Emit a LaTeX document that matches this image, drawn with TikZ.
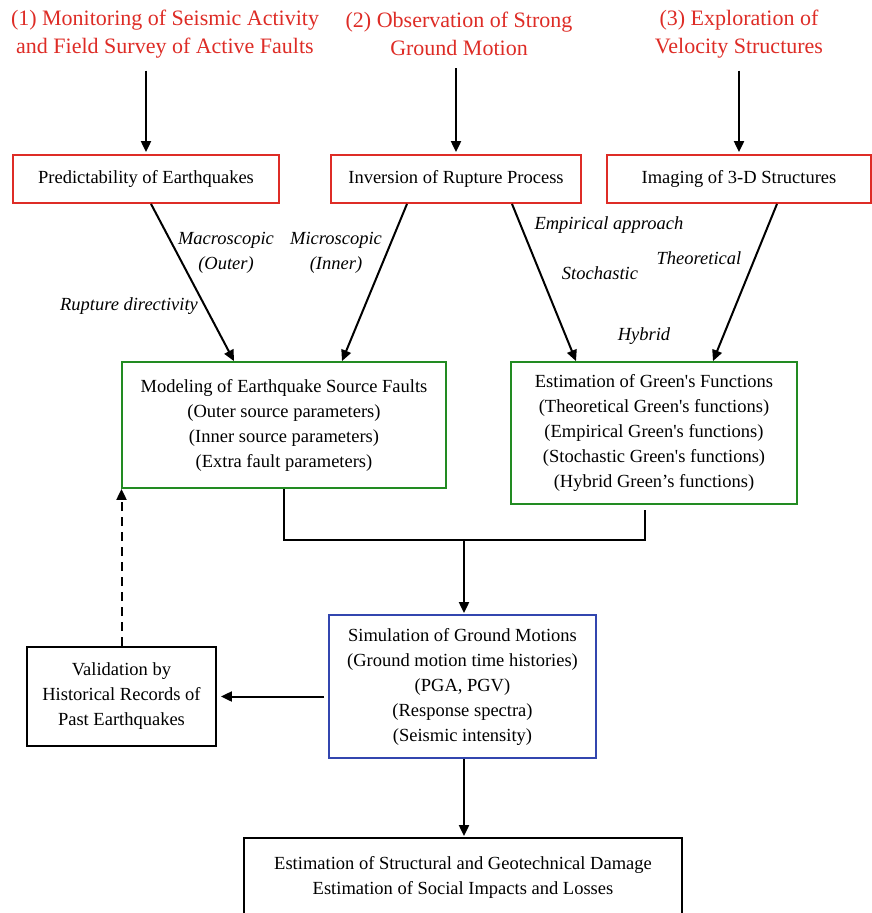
\documentclass[tikz,border=0pt]{standalone}
\usepackage{fontspec}
\setmainfont{Liberation Serif}
\usetikzlibrary{arrows.meta,calc}
\definecolor{fred}{RGB}{222,44,38}
\definecolor{fgreen}{RGB}{34,139,34}
\definecolor{fblue}{RGB}{50,70,175}
\begin{document}
\begin{tikzpicture}[x=1pt,y=-1pt,
  body/.style={font=\fontsize{18.5}{25}\selectfont, align=center},
  title/.style={font=\fontsize{22}{28}\selectfont, align=center, text=fred},
  lab/.style={font=\fontsize{18.5}{25}\selectfont\itshape, align=center},
  boxbase/.style={body, draw, line width=1.8pt, inner sep=0pt},
  rbox/.style={boxbase, draw=fred},
  gbox/.style={boxbase, draw=fgreen},
  bbox/.style={boxbase, draw=fblue},
  kbox/.style={boxbase, draw=black},
  arr/.style={line width=2pt, -{Triangle[length=11pt,width=10pt]}},
  conn/.style={line width=2pt}
]
\clip (0,0) rectangle (872,913);
\fill[white] (0,0) rectangle (872,913);

% titles
\node[title] (t1) at (165,34) {(1) Monitoring of Seismic Activity\\and Field Survey of Active Faults};
\node[title] (t2) at (459,34) {(2) Observation of Strong\\Ground Motion};
\node[title] (t3) at (739,34) {(3) Exploration of\\Velocity Structures};

% red boxes
\node[rbox, minimum width=266, minimum height=48] (b1) at (146,179) {Predictability of Earthquakes};
\node[rbox, minimum width=250, minimum height=48] (b2) at (456,179) {Inversion of Rupture Process};
\node[rbox, minimum width=264, minimum height=48] (b3) at (739,179) {Imaging of 3-D Structures};

% green boxes
\node[gbox, minimum width=324, minimum height=126] (g1) at (284,425) {Modeling of Earthquake Source Faults\\(Outer source parameters)\\(Inner source parameters)\\(Extra fault parameters)};
\node[gbox, minimum width=286, minimum height=142] (g2) at (654,433) {Estimation of Green\textquotesingle s Functions\\(Theoretical Green\textquotesingle s functions)\\(Empirical Green\textquotesingle s functions)\\(Stochastic Green\textquotesingle s functions)\\(Hybrid Green’s functions)};

% blue box
\node[bbox, minimum width=267, minimum height=143] (sim) at (462.5,686.5) {Simulation of Ground Motions\\(Ground motion time histories)\\(PGA, PGV)\\(Response spectra)\\(Seismic intensity)};

% validation box
\node[kbox, minimum width=189, minimum height=99] (val) at (121.5,696.5) {Validation by\\Historical Records of\\Past Earthquakes};

% bottom box
\node[kbox, minimum width=438, minimum height=100] (bot) at (463,888) {Estimation of Structural and Geotechnical Damage\\Estimation of Social Impacts and Losses\\\mbox{}};

% labels
\node[lab] (l1) at (226,252.5) {Macroscopic\\(Outer)};
\node[lab] (l2) at (336,252.5) {Microscopic\\(Inner)};
\node[lab] (l3) at (129,306) {Rupture directivity};
\node[lab] (l4) at (609,225) {Empirical approach};
\node[lab] (l5) at (699,258) {Theoretical};
\node[lab] (l6) at (600,273) {Stochastic};
\node[lab] (l7) at (644,336) {Hybrid};

% title arrows
\draw[arr, shorten <=9pt, shorten >=2pt] (b1.north |- t1.south) -- (b1.north);
\draw[arr, shorten <=9pt, shorten >=2pt] (b2.north |- t2.south) -- (b2.north);
\draw[arr, shorten <=9pt, shorten >=2pt] (b3.north |- t3.south) -- (b3.north);

% diagonal arrows
\draw[arr] ([xshift=5pt]b1.south) -- ([xshift=-50pt]g1.north);
\draw[arr] ([xshift=-49pt]b2.south) -- ([xshift=58pt]g1.north);
\draw[arr] ([xshift=56pt]b2.south) -- ([xshift=-78pt]g2.north);
\draw[arr] ([xshift=38pt]b3.south) -- ([xshift=59pt]g2.north);

% merge
\coordinate (m) at (464,540);
\draw[conn] (g1.south) |- ([xshift=-9pt]g2.south |- m) -- ([xshift=-9pt,yshift=-5pt]g2.south);
\draw[arr, shorten >=1pt] (m) -- (m |- sim.north);

% simulation to validation
\draw[arr, shorten <=4pt, shorten >=4pt] (sim.west |- val.east) -- (val.east);
% dashed feedback
\draw[arr, dash pattern=on 9pt off 6pt] (val.north) -- (val.north |- g1.south);
% simulation to bottom
\draw[arr, shorten >=1pt] (m |- sim.south) -- (m |- bot.north);
\end{tikzpicture}
\end{document}
